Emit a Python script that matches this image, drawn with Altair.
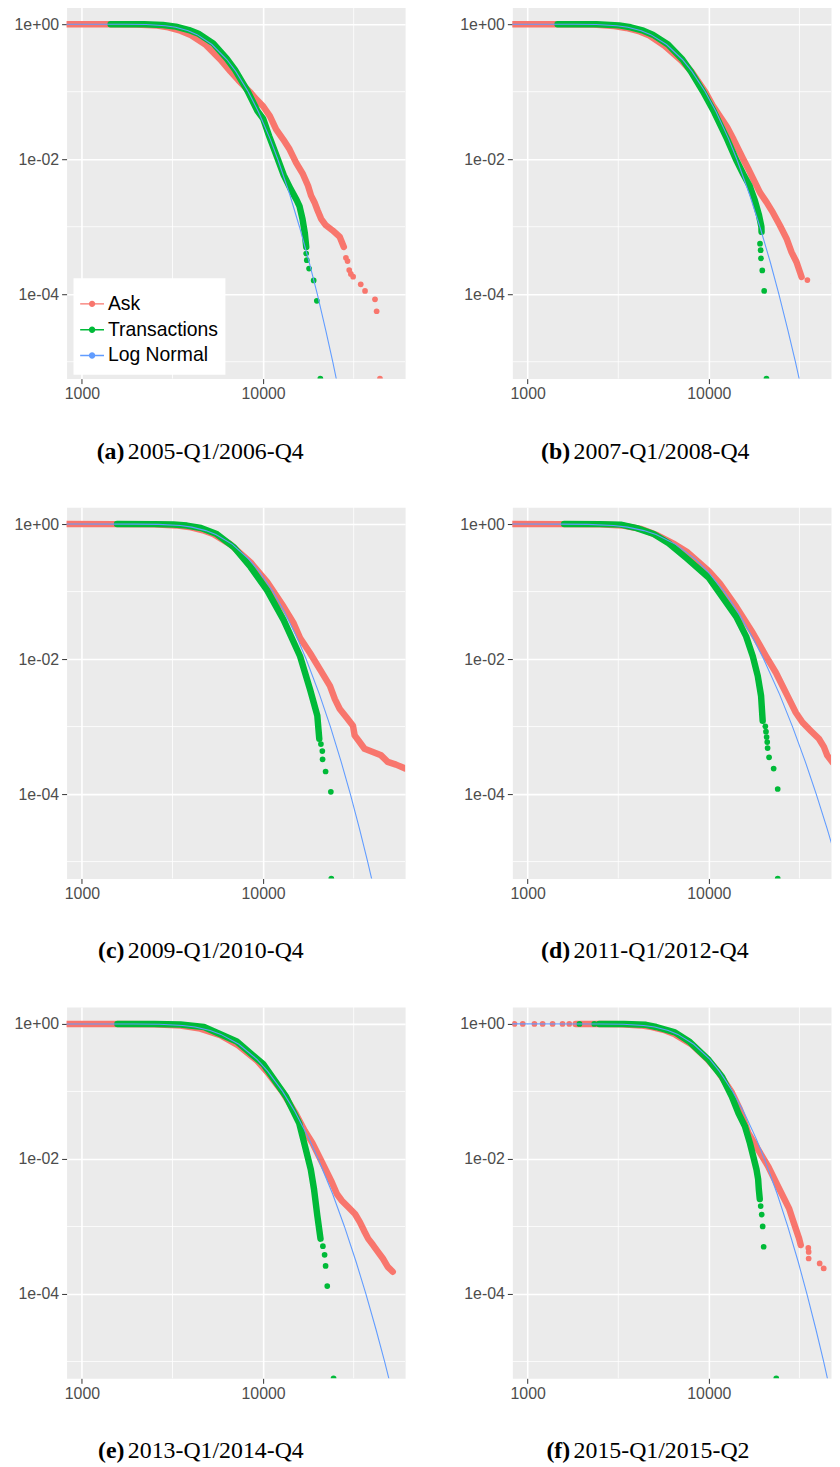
import altair as alt
import pandas as pd

# ---------------- axes / scales ----------------
X_DOMAIN_LEFT = [822.5, 60800]     # left column panels (full width)
X_DOMAIN_RIGHT = [822.5, 47240]    # right column panels are cut at the page edge
Y_DOMAIN = [5.623e-6, 1.778]
X_TICKS = [1000, 10000]
X_MINOR = [3162.3, 31623]
Y_TICKS = [1, 0.01, 0.0001]
Y_MINOR = [0.1, 0.001, 0.00001]

SERIES = ["Ask", "Transactions", "Log Normal"]
COLORS = ["#F8766D", "#00BA38", "#619CFF"]

CAPTION_TAGS = ["(a)", "(b)", "(c)", "(d)", "(e)", "(f)"]
CAPTION_TEXTS = ["2005-Q1/2006-Q4", "2007-Q1/2008-Q4", "2009-Q1/2010-Q4",
                 "2011-Q1/2012-Q4", "2013-Q1/2014-Q4", "2015-Q1/2015-Q2"]

# ---------------- panel (a) ----------------
A_ASK_BAND = [(700, 1.0), (1500, 0.998), (2000, 0.99), (2600, 0.955), (3000, 0.9), (3500, 0.8),
              (3950, 0.7), (4800, 0.5), (5800, 0.3), (6600, 0.2), (7300, 0.148), (8400, 0.101),
              (9200, 0.0763), (10000, 0.0608), (10900, 0.0434), (11800, 0.0276), (12900, 0.0197),
              (14000, 0.014), (15200, 0.0089), (16600, 0.006), (17700, 0.00405), (18400, 0.00289),
              (19200, 0.00231), (20000, 0.00174), (20900, 0.00131), (22200, 0.00105),
              (24200, 0.00088), (26500, 0.000705), (27900, 0.000502)]
A_ASK_DOTS = [(28650, 3.46e-4), (29250, 3.1e-4), (29880, 2.28e-4), (30500, 2.0e-4), (31400, 1.82e-4),
              (34590, 1.40e-4), (36530, 1.12e-4), (41470, 8.4e-5), (42340, 5.6e-5), (44170, 0)]
A_TX_BAND = [(1440, 1.0), (2200, 0.997), (2800, 0.975), (3300, 0.92), (3900, 0.82), (4400, 0.72),
             (5300, 0.52), (6300, 0.31), (7000, 0.21), (8200, 0.103), (9300, 0.052), (10000, 0.04),
             (10800, 0.022), (11900, 0.011), (13000, 0.0058), (14200, 0.0036), (15300, 0.0025),
             (15900, 0.002), (16500, 0.0013), (17000, 0.0008), (17300, 0.0005)]
A_TX_DOTS = [(17290, 4.0e-4), (17430, 3.2e-4), (17940, 2.4e-4), (19020, 1.6e-4), (19800, 8.0e-5),
             (20700, 0)]
A_FIT = [(700, 1.0), (1717, 0.999), (2260, 0.99), (2888, 0.95), (3290, 0.9), (3855, 0.8), (4320, 0.7),
         (5220, 0.5), (6305, 0.3), (7065, 0.2), (8275, 0.1), (9435, 0.05), (10930, 0.02), (12050, 0.01),
         (14030, 0.003), (15870, 0.001), (17960, 3e-4), (19920, 1e-4), (22130, 3e-5), (24230, 1e-5),
         (26600, 3e-6)]

# ---------------- panel (b) ----------------
B_ASK_BAND = [(700, 1.0), (1500, 0.997), (2300, 0.985), (3000, 0.94), (3500, 0.88), (4150, 0.78),
              (4700, 0.68), (5700, 0.48), (7050, 0.29), (8000, 0.2), (9550, 0.1), (10600, 0.06),
              (11530, 0.043), (12600, 0.03), (13680, 0.0197), (15490, 0.01), (16500, 0.0072),
              (17580, 0.0051), (19160, 0.0032), (20850, 0.0023), (22630, 0.0016), (24640, 0.00105),
              (26830, 0.00067), (28600, 0.00042), (30460, 0.0003), (31780, 0.000215), (32500, 0.00018)]
B_ASK_DOTS = [(34990, 1.62e-4), (48980, 1.46e-4), (49700, 1.25e-4), (50470, 1.04e-4), (51200, 8.3e-5)]
B_TX_BAND = [(1462, 1.0), (2400, 0.996), (3200, 0.96), (3700, 0.9), (4350, 0.8), (4900, 0.7),
             (5950, 0.5), (7150, 0.3), (7950, 0.2), (9300, 0.1), (10700, 0.05), (12600, 0.02),
             (14100, 0.01), (15500, 0.006), (16800, 0.004), (17900, 0.0025), (18900, 0.0015),
             (19500, 0.001), (19540, 0.00084)]
B_TX_DOTS = [(19160, 5.6e-4), (19320, 4.5e-4), (19400, 3.4e-4), (19720, 2.25e-4), (20200, 1.12e-4),
             (20800, 0)]
B_FIT = [(700, 1.0), (1782, 0.999), (2390, 0.99), (3105, 0.95), (3570, 0.9), (4230, 0.8), (4776, 0.7),
         (5840, 0.5), (7140, 0.3), (8060, 0.2), (9550, 0.1), (10980, 0.05), (12850, 0.02), (14260, 0.01),
         (16770, 0.003), (19130, 0.001), (21820, 3e-4), (24350, 1e-4), (27260, 3e-5), (30030, 1e-5),
         (33200, 3e-6)]

# ---------------- panel (c) ----------------
C_ASK_BAND = [(700, 1.0), (1500, 0.998), (2500, 0.99), (3300, 0.955), (3900, 0.905), (4650, 0.81),
              (5300, 0.71), (6600, 0.5), (8530, 0.27), (10510, 0.139), (12970, 0.0598), (14740, 0.034),
              (16000, 0.0205), (18150, 0.0123), (20600, 0.00702), (23390, 0.004), (24900, 0.00255),
              (26500, 0.00182), (28820, 0.00137), (31340, 0.00103), (32010, 0.00074), (34090, 0.00059),
              (36300, 0.00047), (40340, 0.00042), (44800, 0.000375), (48730, 0.0003),
              (54180, 0.000273), (60900, 0.000239)]
C_ASK_DOTS = []
C_TX_BAND = [(1563, 1.0), (2500, 0.997), (3200, 0.985), (3800, 0.95), (4540, 0.873), (5500, 0.72),
             (6900, 0.454), (8530, 0.231), (10510, 0.105), (12970, 0.0381), (16000, 0.011),
             (18150, 0.00357), (19920, 0.00145), (20420, 0.00066)]
C_TX_DOTS = [(20850, 5.5e-4), (21230, 4.34e-4), (21300, 3.27e-4), (22130, 2.16e-4), (23660, 1.08e-4),
             (23800, 0)]
C_FIT = [(700, 1.0), (1950, 0.999), (2650, 0.99), (3490, 0.95), (4040, 0.9), (4820, 0.8), (5480, 0.7),
         (6770, 0.5), (8360, 0.3), (9500, 0.2), (11340, 0.1), (13120, 0.05), (15490, 0.02), (17270, 0.01),
         (20470, 0.003), (23520, 0.001), (26980, 3e-4), (30320, 1e-4), (34110, 3e-5), (37760, 1e-5),
         (41930, 3e-6)]

# ---------------- panel (d) ----------------
D_ASK_BAND = [(700, 1.0), (1500, 0.998), (2500, 0.99), (3300, 0.955), (4200, 0.85), (5200, 0.68),
              (6500, 0.5), (7550, 0.39), (10000, 0.2), (11490, 0.132), (14150, 0.0597), (17490, 0.0243),
              (20700, 0.011), (23460, 0.00627), (25510, 0.004), (27740, 0.00255), (30180, 0.00162),
              (32830, 0.00116), (36470, 0.00087), (40520, 0.00066), (43170, 0.0005), (45010, 0.000375),
              (47930, 0.0003), (51100, 0.000252), (55000, 0.00023), (60000, 0.00021)]
D_ASK_DOTS = []
D_TX_BAND = [(1590, 1.0), (2500, 0.998), (3260, 0.98), (4000, 0.87), (4960, 0.713), (6000, 0.52),
             (7550, 0.31), (10000, 0.16), (11490, 0.0938), (14150, 0.0426), (16060, 0.0217),
             (17480, 0.011), (18620, 0.0056), (19420, 0.00285), (19820, 0.00122)]
D_TX_DOTS = [(20500, 0.00101), (20670, 8.4e-4), (20840, 7.0e-4), (21000, 5.9e-4), (21100, 4.8e-4),
             (21500, 3.5e-4), (22790, 2.39e-4), (23990, 1.19e-4), (24000, 0)]
D_FIT = [(700, 1.0), (1490, 0.999), (2150, 0.99), (2980, 0.95), (3550, 0.9), (4380, 0.8), (5110, 0.7),
         (6560, 0.5), (8440, 0.3), (9830, 0.2), (12140, 0.1), (14460, 0.05), (17600, 0.02), (20060, 0.01),
         (24570, 0.003), (28950, 0.001), (34100, 3e-4), (39160, 1e-4), (45100, 3e-5), (50900, 1e-5),
         (57700, 3e-6)]

# ---------------- panel (e) ----------------
E_ASK_BAND = [(700, 1.0), (1500, 0.999), (2500, 0.99), (3500, 0.945), (4500, 0.85), (5800, 0.68),
              (7300, 0.48), (9200, 0.29), (10500, 0.195), (12800, 0.098), (15000, 0.049), (17000, 0.026),
              (18700, 0.0173), (21200, 0.00879), (23990, 0.00448), (25560, 0.00302), (27230, 0.0024),
              (29590, 0.00192), (32170, 0.00153), (34220, 0.00116), (36450, 0.00082), (38010, 0.00066),
              (40460, 0.00053), (43060, 0.00042), (45830, 0.000335), (48780, 0.000252),
              (51960, 0.000213)]
E_ASK_DOTS = []
E_TX_BAND = [(1570, 1.0), (2500, 0.998), (3500, 0.98), (4720, 0.9), (7160, 0.55), (10000, 0.255),
             (13390, 0.0838), (15810, 0.034), (17210, 0.0138), (18330, 0.007), (19100, 0.00357),
             (19920, 0.00145), (20740, 0.00066)]
E_TX_DOTS = [(21380, 5.1e-4), (21850, 3.8e-4), (22130, 2.6e-4), (22600, 1.31e-4), (24490, 0)]
E_FIT = [(700, 1.0), (1920, 0.999), (2680, 0.99), (3600, 0.95), (4210, 0.9), (5100, 0.8), (5850, 0.7),
         (7350, 0.5), (9230, 0.3), (10590, 0.2), (12810, 0.1), (15000, 0.05), (17900, 0.02), (20150, 0.01),
         (24240, 0.003), (28110, 0.001), (32600, 3e-4), (36930, 1e-4), (41970, 3e-5), (46830, 1e-5),
         (52420, 3e-6)]

# ---------------- panel (f) ----------------
F_ASK_BAND = [(1840, 1.0), (2500, 0.999), (3300, 0.99), (4200, 0.95), (4850, 0.9), (5750, 0.8),
              (6500, 0.7), (8000, 0.5), (9800, 0.3), (11200, 0.2), (13300, 0.1), (14800, 0.055),
              (16500, 0.0243), (18700, 0.0138), (21200, 0.00785), (23990, 0.004), (26100, 0.00255),
              (27790, 0.00182), (28970, 0.00129), (30210, 0.00092), (31500, 0.00066), (32150, 0.00053)]
F_ASK_DOTS = [(845, 1.0), (939, 1.0), (1089, 1.0), (1209, 1.0), (1372, 1.0), (1557, 1.0), (1696, 1.0),
              (35400, 4.8e-4), (35560, 4.2e-4), (35560, 3.35e-4), (40900, 2.83e-4), (43050, 2.39e-4)]
F_TX_BAND = [(2480, 0.9995), (3400, 0.997), (4500, 0.97), (5130, 0.9), (6500, 0.75), (7780, 0.55),
             (10000, 0.29), (11820, 0.165), (13390, 0.0838), (14560, 0.0477), (15820, 0.0304),
             (16840, 0.0173), (17570, 0.011), (18320, 0.007), (18710, 0.005), (18870, 0.00357),
             (19100, 0.00255)]
F_TX_DOTS = [(1930, 1.0), (2330, 1.0), (19330, 0.002), (19580, 0.0015), (19820, 0.001), (20070, 0.0005),
             (23560, 0)]
F_FIT = [(700, 1.0), (2495, 0.999), (3355, 0.99), (4365, 0.95), (5025, 0.9), (5960, 0.8), (6740, 0.7),
         (8250, 0.5), (10110, 0.3), (11430, 0.2), (13540, 0.1), (15580, 0.05), (18250, 0.02), (20280, 0.01),
         (23870, 0.003), (27250, 0.001), (31130, 3e-4), (34770, 1e-4), (38980, 3e-5), (43000, 1e-5),
         (47560, 3e-6)]

PANELS = [
    (A_ASK_BAND, A_ASK_DOTS, A_TX_BAND, A_TX_DOTS, A_FIT),
    (B_ASK_BAND, B_ASK_DOTS, B_TX_BAND, B_TX_DOTS, B_FIT),
    (C_ASK_BAND, C_ASK_DOTS, C_TX_BAND, C_TX_DOTS, C_FIT),
    (D_ASK_BAND, D_ASK_DOTS, D_TX_BAND, D_TX_DOTS, D_FIT),
    (E_ASK_BAND, E_ASK_DOTS, E_TX_BAND, E_TX_DOTS, E_FIT),
    (F_ASK_BAND, F_ASK_DOTS, F_TX_BAND, F_TX_DOTS, F_FIT),
]

PANEL_H = 374
PANEL_W_LEFT = 341
PANEL_W_RIGHT = 321


def frame(points, series):
    # survival value 0 lies at -Inf on a log axis: drawn on the panel floor, as ggplot does
    return pd.DataFrame({
        "i": list(range(len(points))),
        "x": [p[0] for p in points],
        "y": [p[1] if p[1] > 0 else Y_DOMAIN[0] for p in points],
        "series": [series] * len(points),
    })


y_scale = alt.Scale(type="log", domain=Y_DOMAIN, nice=False)
color_scale = alt.Scale(domain=SERIES, range=COLORS)

x_axis = alt.Axis(values=X_TICKS, title=None, domain=False,
                  labelExpr="datum.value < 5000 ? '1000' : '10000'",
                  tickColor="#333333", tickSize=5, tickWidth=1,
                  labelColor="#4D4D4D", labelFont="Liberation Sans", labelFontSize=16,
                  labelPadding=2, gridColor="white", gridWidth=1.6, labelFlush=False)
y_axis = alt.Axis(values=Y_TICKS, title=None, domain=False,
                  labelExpr="datum.value > 0.5 ? '1e+00' : (datum.value > 0.005 ? '1e-02' : '1e-04')",
                  tickColor="#333333", tickSize=5, tickWidth=1,
                  labelColor="#4D4D4D", labelFont="Liberation Sans", labelFontSize=16,
                  labelPadding=3, gridColor="white", gridWidth=1.6, labelFlush=False,
                  minExtent=52, maxExtent=52)

# legend key: a short line with a dot in the middle (both filled shapes); the two
# zero-length corner segments give the key its full square footprint
KEY_PATH = ("M-1,-1L-1,-1ZM1,1L1,1Z"
            "M-1,-0.06L1,-0.06L1,0.06L-1,0.06Z"
            "M-0.27,0A0.27,0.27,0,1,1,0.27,0A0.27,0.27,0,1,1,-0.27,0Z")

legend = alt.Legend(
    title=" ", titleFontSize=6, titlePadding=1,
    orient="none", legendX=7, legendY=273,
    fillColor="white", padding=6.7,
    symbolType=KEY_PATH, symbolSize=576, symbolStrokeWidth=0, symbolOpacity=1,
    labelFont="Liberation Sans", labelFontSize=19.5, labelColor="black", labelOffset=4,
    rowPadding=2, labelLimit=300,
)

Y = alt.Y("y:Q", scale=y_scale, axis=y_axis)
COLOR = alt.Color("series:N", scale=color_scale, legend=None)
COLOR_LEGEND = alt.Color("series:N", scale=color_scale, legend=legend)


def panel(k):
    ask_band, ask_dots, tx_band, tx_dots, fit = PANELS[k]
    right = (k % 2 == 1)
    x_scale = alt.Scale(type="log", domain=X_DOMAIN_RIGHT if right else X_DOMAIN_LEFT, nice=False)
    X = alt.X("x:Q", scale=x_scale, axis=x_axis)
    layers = []
    layers.append(alt.Chart(pd.DataFrame({"x": X_MINOR})).mark_rule(
        color="white", strokeWidth=0.8).encode(x=X))
    layers.append(alt.Chart(pd.DataFrame({"y": Y_MINOR})).mark_rule(
        color="white", strokeWidth=0.8).encode(y=Y))
    # the first coloured layer carries the legend (only in panel a)
    if ask_dots:
        col = COLOR_LEGEND if k == 0 else COLOR
        layers.append(alt.Chart(frame(ask_dots, "Ask")).mark_circle(
            size=33, opacity=1, clip=True).encode(x=X, y=Y, color=col))
    layers.append(alt.Chart(frame(ask_band, "Ask")).mark_line(
        strokeWidth=6.5, strokeCap="round", strokeJoin="round", opacity=1, clip=True
    ).encode(x=X, y=Y, color=COLOR, order="i:Q"))
    layers.append(alt.Chart(frame(tx_band, "Transactions")).mark_line(
        strokeWidth=6.5, strokeCap="round", strokeJoin="round", opacity=1, clip=True
    ).encode(x=X, y=Y, color=COLOR, order="i:Q"))
    layers.append(alt.Chart(frame(tx_dots, "Transactions")).mark_circle(
        size=33, opacity=1, clip=True).encode(x=X, y=Y, color=COLOR))
    layers.append(alt.Chart(frame(fit, "Log Normal")).mark_line(
        strokeWidth=1.1, clip=True).encode(x=X, y=Y, color=COLOR, order="i:Q"))
    cap = pd.DataFrame({"tag": [CAPTION_TAGS[k]], "text": [CAPTION_TEXTS[k]]})
    layers.append(alt.Chart(cap).mark_text(
        align="right", baseline="alphabetic", font="Liberation Serif", fontSize=24,
        fontWeight="bold", color="black").encode(text="tag:N", x=alt.value(58.3), y=alt.value(454.5)))
    layers.append(alt.Chart(cap).mark_text(
        align="left", baseline="alphabetic", font="Liberation Serif", fontSize=24,
        color="black").encode(text="text:N", x=alt.value(61.7), y=alt.value(454.5)))
    return alt.layer(*layers).properties(width=PANEL_W_RIGHT if right else PANEL_W_LEFT,
                                         height=PANEL_H)


rows = [alt.hconcat(panel(2 * r), panel(2 * r + 1), spacing=53).resolve_scale(color="independent")
        for r in range(3)]
chart = alt.vconcat(*rows, spacing=42.5).resolve_scale(color="independent").properties(
    padding={"left": 5, "top": -7, "right": 0, "bottom": 0}
).configure_view(fill="#EBEBEB", stroke="transparent")

chart.save("out.html", embed_options={"renderer": "svg", "actions": False})
